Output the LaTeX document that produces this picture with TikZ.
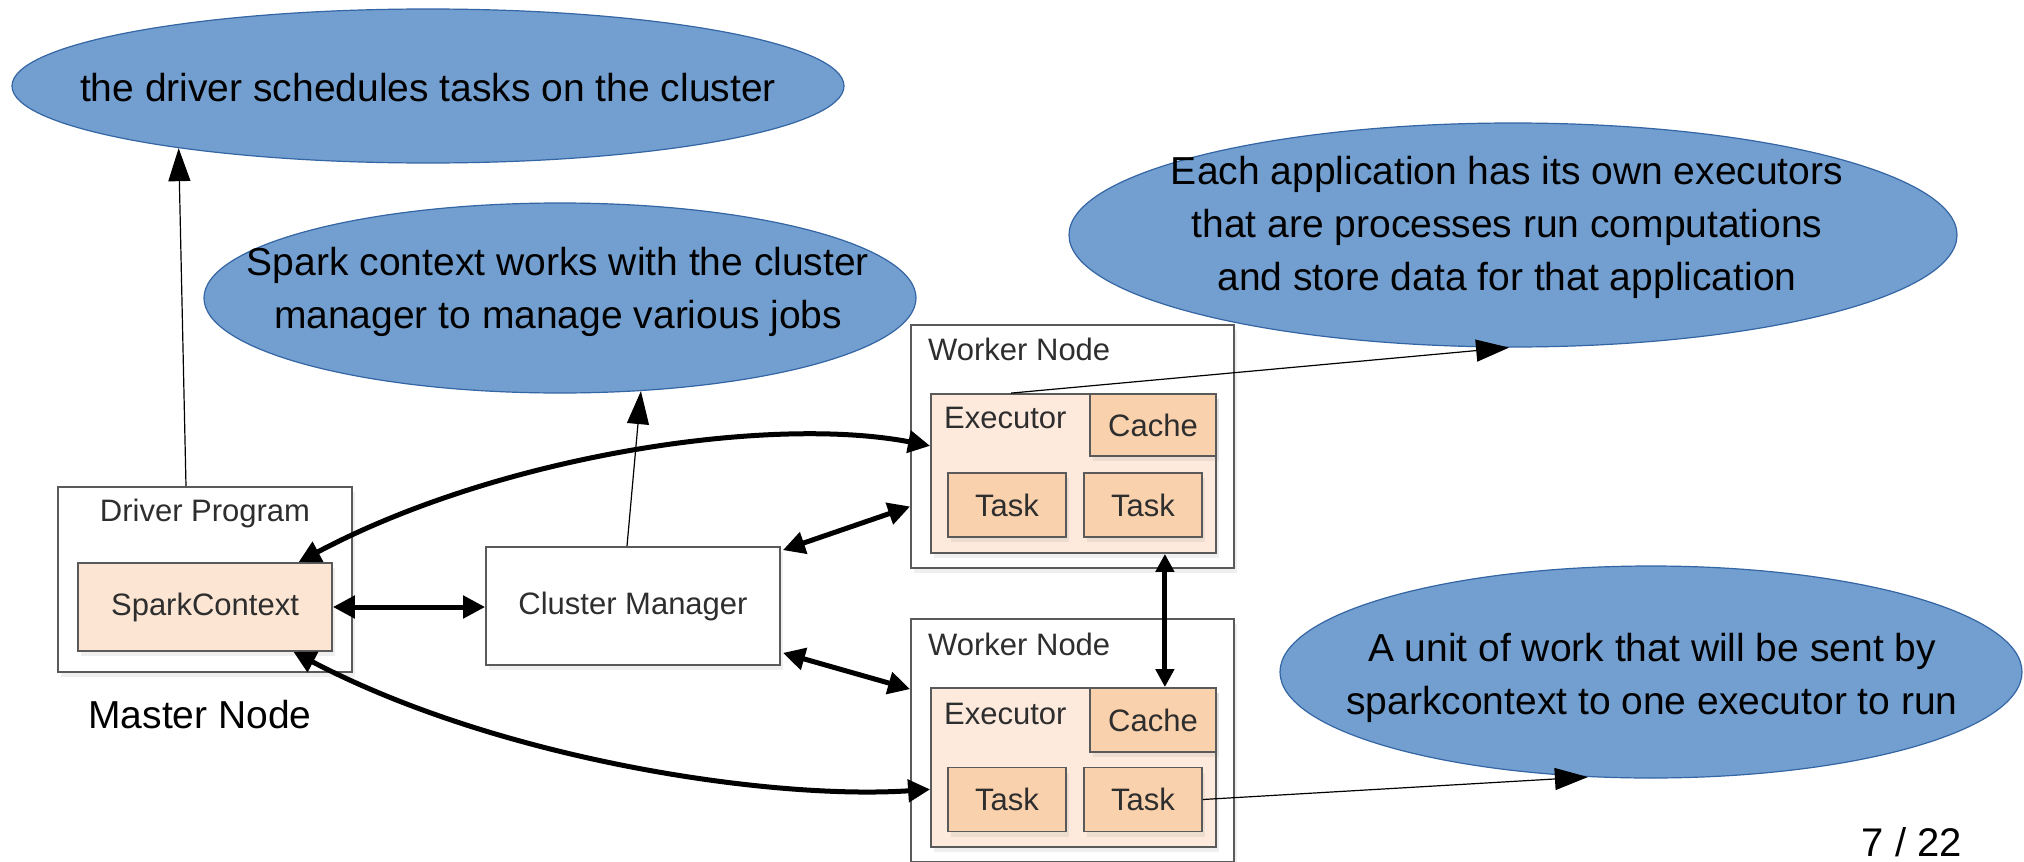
\documentclass[tikz,border=0pt]{standalone}
\usepackage{fontspec}
\setmainfont{Liberation Sans}
\usetikzlibrary{arrows.meta,calc,shapes.geometric,shadows}

\definecolor{ellfill}{HTML}{729FCF}
\definecolor{elldraw}{HTML}{3465A4}
\definecolor{boxdraw}{HTML}{5A5A5A}
\definecolor{execfill}{HTML}{FDEADC}
\definecolor{taskfill}{HTML}{F9D1AC}
\definecolor{scfill}{HTML}{FCE5D3}
\definecolor{boxtext}{HTML}{2E2E2E}

\begin{document}
\begin{tikzpicture}[x=1pt,y=-1pt,
  bubble/.style={ellipse, fill=ellfill, draw=elldraw, line width=1.2pt, inner sep=0pt},
  bubbletext/.style={align=center, inner sep=0pt, font=\fontsize{39}{53}\selectfont, text=black},
  box/.style={rectangle, draw=boxdraw, line width=1.8pt, inner sep=0pt,
    font=\fontsize{31}{37}\selectfont, text=boxtext,
    drop shadow={opacity=0.12, shadow xshift=3pt, shadow yshift=-5pt}},
  lbl/.style={inner sep=0pt, font=\fontsize{31}{37}\selectfont, text=boxtext},
  thinarrow/.style={line width=1.2pt, -{Triangle[length=33pt,width=22pt]}},
  bigarrow/.style={line width=5pt, {Triangle[length=22pt,width=22pt]}-{Triangle[length=22pt,width=22pt]}},
  vertarrow/.style={line width=5pt, {Triangle[length=18pt,width=18pt]}-{Triangle[length=18pt,width=18pt]}}
]
\useasboundingbox (0,0) rectangle (2024,862);
\fill[white] (0,0) rectangle (2024,862);
\clip (0,0) rectangle (2024,862);

% ---------- ellipses ----------
\node[bubble, minimum width=832pt, minimum height=154pt] (e1) at (428,86) {};
\node[bubbletext] (e1t) at (428,88) {the driver schedules tasks on the cluster};
\node[bubble, minimum width=712pt, minimum height=190pt] (e2) at (560,298) {};
\node[bubbletext] (e2t) at (558,292) {Spark context works with the cluster\\manager to manage various jobs};
\node[bubble, minimum width=888pt, minimum height=224pt] (e3) at (1513,235) {};
\node[bubbletext] (e3t) at (1507,227) {Each application has its own executors\\that are processes run computations\\and store data for that application};
\node[bubble, minimum width=742pt, minimum height=212pt] (e4) at (1651,672) {};
\node[bubbletext] (e4t) at (1652,678) {A unit of work that will be sent by\\sparkcontext to one executor to run};

% ---------- master node ----------
\node[box, fill=white, minimum width=294pt, minimum height=185pt] (driver) at (205,579.5) {};
\node[lbl] (drvlbl) at (205,513) {Driver Program};
\node[box, fill=scfill, minimum width=254pt, minimum height=88pt] (sc) at (205,607) {SparkContext};
\node[inner sep=0pt, font=\fontsize{39}{47}\selectfont, text=black] (master) at (200,715) {Master Node};

% ---------- cluster manager ----------
\node[box, fill=white, minimum width=294pt, minimum height=118pt] (cm) at (633,606) {Cluster Manager};

% ---------- worker 1 ----------
\node[box, fill=white, minimum width=323pt, minimum height=243pt] (w1) at (1072.5,446.5) {};
\node[lbl, anchor=west] (w1lbl) at (928,349) {Worker Node};
\node[box, fill=execfill, minimum width=285pt, minimum height=159pt] (ex1) at (1073.5,473.5) {};
\node[lbl, anchor=west] (ex1lbl) at (944,418) {Executor};
\node[box, fill=taskfill, minimum width=126pt, minimum height=62pt] (ca1) at (1153,425) {Cache};
\node[box, fill=taskfill, minimum width=118pt, minimum height=64pt] (t11) at (1007,505) {Task};
\node[box, fill=taskfill, minimum width=118pt, minimum height=64pt] (t12) at (1143,505) {Task};

% ---------- worker 2 ----------
\node[box, fill=white, minimum width=323pt, minimum height=243pt] (w2) at (1072.5,740.5) {};
\node[lbl, anchor=west] (w2lbl) at (928,644) {Worker Node};
\node[box, fill=execfill, minimum width=285pt, minimum height=159pt] (ex2) at (1073.5,767.5) {};
\node[lbl, anchor=west] (ex2lbl) at (944,714) {Executor};
\node[box, fill=taskfill, minimum width=126pt, minimum height=64pt] (ca2) at (1153,720) {Cache};
\node[box, fill=taskfill, minimum width=118pt, minimum height=64pt] (t21) at (1007,799.5) {Task};
\node[box, fill=taskfill, minimum width=118pt, minimum height=64pt] (t22) at (1143,799.5) {Task};

% ---------- page number ----------
\node[inner sep=0pt, anchor=base, font=\fontsize{40}{48}\selectfont, text=black] (pagenum) at (1912,856) {7 / 22};

% ---------- thin annotation arrows ----------
\draw[thinarrow] ($(driver.north)+(-19,0)$) -- (e1.194.6);
\draw[thinarrow] ($(cm.north)+(-6,0)$) -- (e2.311.2);
\draw[thinarrow] ($(ex1.north west)+(81,0)$) -- (e3.268.5);
\draw[thinarrow] (t22.east) -- (e4.239.3);

% ---------- thick connectors ----------
\coordinate (va) at ($(ex1.south east)+(-52,0)$);
\draw[bigarrow] (sc.east) -- (sc.east -| cm.west);
\draw[bigarrow] ($(sc.north west)!0.866!(sc.north east)$)
   .. controls (500,455) and (770,415) .. ($(ex1.north west)!0.328!(ex1.south west)$);
\draw[bigarrow] ($(sc.south west)!0.846!(sc.south east)$)
   .. controls (500,760) and (770,800) .. ($(ex2.north west)!0.636!(ex2.south west)$);
\draw[bigarrow] ($(cm.north east)+(2,4)$) -- ($(w1.north west)!0.745!(w1.south west)$);
\draw[bigarrow] ($(cm.south east)+(2,-13)$) -- ($(w2.north west)+(0,71)$);
\draw[vertarrow] (va) -- (va |- ca2.north);
\end{tikzpicture}
\end{document}
